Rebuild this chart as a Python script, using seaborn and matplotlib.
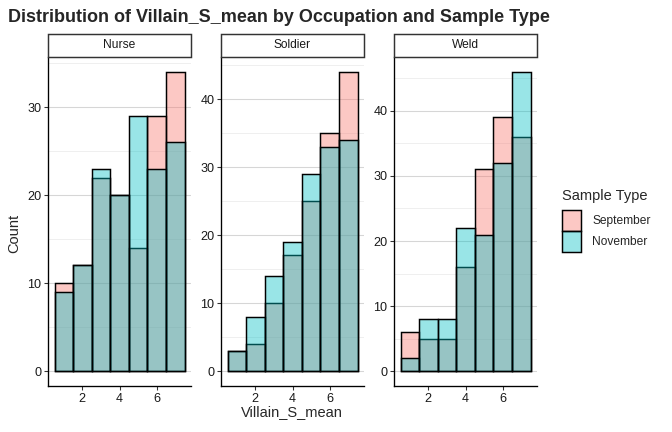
import numpy as np
import pandas as pd
import seaborn as sns
import matplotlib.pyplot as plt
from matplotlib.patches import Rectangle, Patch
from matplotlib.colors import to_rgba
from matplotlib.ticker import MultipleLocator

# bin centres of Villain_S_mean (binwidth 1)
bin_centers = [1, 2, 3, 4, 5, 6, 7]
occupations = ["Nurse", "Soldier", "Weld"]
sample_types = ["September", "November"]

# counts per bin
nurse_sep = [10, 12, 22, 20, 14, 29, 34]
nurse_nov = [9, 12, 23, 20, 29, 23, 26]
soldier_sep = [3, 4, 10, 17, 25, 35, 44]
soldier_nov = [3, 8, 14, 19, 29, 33, 34]
weld_sep = [6, 5, 5, 16, 31, 39, 36]
weld_nov = [2, 8, 8, 22, 21, 32, 46]

counts = {
    ("Nurse", "September"): nurse_sep,
    ("Nurse", "November"): nurse_nov,
    ("Soldier", "September"): soldier_sep,
    ("Soldier", "November"): soldier_nov,
    ("Weld", "September"): weld_sep,
    ("Weld", "November"): weld_nov,
}

rows = []
for (occ, st), vals in counts.items():
    for x, n in zip(bin_centers, vals):
        rows.append({"Occupation": occ, "Sample Type": st,
                     "Villain_S_mean": x, "n": n})
df = pd.DataFrame(rows)

palette = {"September": "#F8766D", "November": "#00BFC4"}

sns.set_style("white")
plt.rcParams['font.family'] = ['Liberation Sans', 'DejaVu Sans']

W, H = 672, 432
fig = plt.figure(figsize=(W / 96, H / 96), dpi=96)

panel_x = [(48, 191), (221, 364), (394, 537)]
top, bottom = 57, 386
strip_top = 34

for occ, (x0, x1) in zip(occupations, panel_x):
    ax = fig.add_axes([x0 / W, (H - bottom) / H, (x1 - x0) / W, (bottom - top) / H])
    sub = df[df["Occupation"] == occ]
    sns.histplot(data=sub, x="Villain_S_mean", weights="n", hue="Sample Type",
                 hue_order=["November", "September"], palette=palette,
                 binwidth=1, binrange=(0.5, 7.5), multiple="layer", alpha=0.4,
                 edgecolor="black", linewidth=1.1, legend=False, ax=ax)
    ymax = sub["n"].max()
    ax.set_xlim(0.15, 7.85)
    ax.set_ylim(-0.05 * ymax, 1.05 * ymax)
    ax.xaxis.set_major_locator(MultipleLocator(2))
    ax.yaxis.set_major_locator(MultipleLocator(10))
    ax.yaxis.set_minor_locator(MultipleLocator(5))
    ax.grid(axis="y", which="major", color="#d6d6d6", linewidth=0.8)
    ax.grid(axis="y", which="minor", color="#ececec", linewidth=0.6)
    ax.set_axisbelow(True)
    for s in ["top", "right"]:
        ax.spines[s].set_visible(False)
    for s in ["left", "bottom"]:
        ax.spines[s].set_color("black")
        ax.spines[s].set_linewidth(1.0)
    ax.tick_params(axis="both", which="major", bottom=True, left=True,
                   length=3, width=0.8, color="#333333", labelsize=9.5,
                   labelcolor="#1a1a1a", pad=2)
    ax.tick_params(axis="y", which="minor", length=0)
    ax.set_xlabel("")
    ax.set_ylabel("")

    # facet strip
    fig.patches.append(Rectangle((x0 / W, (H - top) / H), (x1 - x0) / W,
                                 (top - strip_top) / H, transform=fig.transFigure,
                                 facecolor="white", edgecolor="#333333", linewidth=1.1))
    fig.text((x0 + x1) / 2 / W, (H - (top + strip_top) / 2) / H, occ,
             ha="center", va="center", fontsize=9, color="#1a1a1a")

fig.text(8 / W, 1 - 18 / H, "Distribution of Villain_S_mean by Occupation and Sample Type",
         ha="left", va="center", fontsize=13.5, fontweight="bold")
fig.text(14 / W, 1 - 233 / H, "Count", rotation=90, ha="center", va="center", fontsize=11)
fig.text(292 / W, 1 - 412 / H, "Villain_S_mean", ha="center", va="center", fontsize=11)

# legend: title as separate text, keys below
fig.text(562 / W, 1 - 196 / H, "Sample Type", ha="left", va="center", fontsize=11)
handles = [Patch(facecolor=to_rgba(palette[s], 0.4), edgecolor="black", linewidth=1.1)
           for s in sample_types]
leg = fig.legend(handles, sample_types, loc="upper left",
                 bbox_to_anchor=(561 / W, 1 - 209 / H), frameon=False, fontsize=9,
                 handlelength=1.6, handleheight=2.3,
                 labelspacing=0.0, handletextpad=0.9, borderaxespad=0,
                 borderpad=0.1)

fig.savefig("out.png", dpi=96)
